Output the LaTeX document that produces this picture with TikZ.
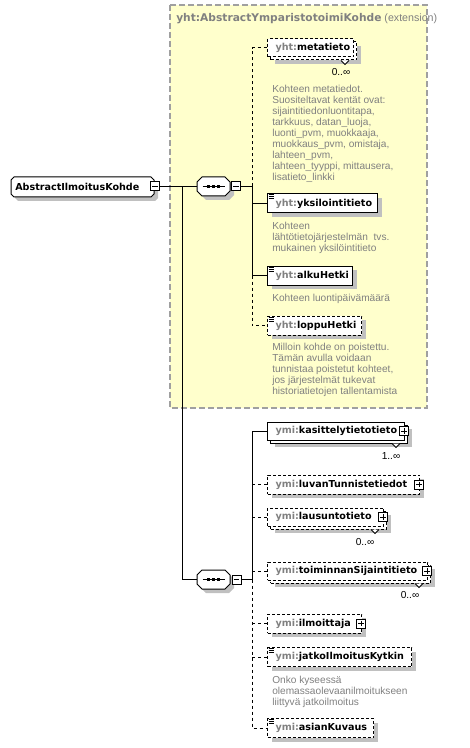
\documentclass[tikz,border=0pt]{standalone}
\usepackage{fontspec}
\setmainfont{Liberation Sans}
\newfontfamily\xsdname{DejaVu Sans}
\usetikzlibrary{shadows}
\definecolor{xsdYellow}{RGB}{255,255,204}
\definecolor{xsdGrey}{RGB}{128,128,128}
\definecolor{xsdShade}{RGB}{192,192,192}
\definecolor{xsdFrame}{RGB}{160,160,160}
\newcommand{\xsdns}[1]{\textcolor{xsdGrey}{#1:}}
% bevelled outline with its shadow: x1, y1, x2, y2, chamfer
\newcommand{\bevelbox}[5]{%
  \fill[xsdShade, shift={(4,4)}] (#1+#5,#2) -- (#3-#5,#2) -- (#3,#2+#5) -- (#3,#4-#5) -- (#3-#5,#4) -- (#1+#5,#4) -- (#1,#4-#5) -- (#1,#2+#5) -- cycle;
  \filldraw[fill=white, draw=black, line width=0.75pt] (#1+#5,#2) -- (#3-#5,#2) -- (#3,#2+#5) -- (#3,#4-#5) -- (#3-#5,#4) -- (#1+#5,#4) -- (#1,#4-#5) -- (#1,#2+#5) -- cycle;}

\begin{document}
\begin{tikzpicture}[x=0.75pt, y=-0.75pt]
    \tikzstyle{extframe} = [draw=xsdFrame, fill=xsdYellow, line width=1.1pt, dash pattern=on 4.5pt off 2.25pt]
    \tikzstyle{title} = [anchor=west, inner sep=0pt, text=xsdGrey, font=\fontsize{8}{9}\selectfont]
    \tikzstyle{elbox} = [rectangle, draw=black, fill=white, line width=0.75pt, anchor=west, minimum height=14.25pt, inner xsep=6pt, inner ysep=0pt, align=left, font=\xsdname\bfseries\fontsize{7.2}{8.6}\selectfont]
    \tikzstyle{single} = [general shadow={fill=xsdShade, shadow scale=1, shadow xshift=3pt, shadow yshift=-3pt}]
    \tikzstyle{multi} = [minimum height=13.5pt, general shadow={fill=xsdShade, shadow scale=1, shadow xshift=5.25pt, shadow yshift=-5.25pt}, copy shadow={shadow scale=1, shadow xshift=2.25pt, shadow yshift=-2.25pt}]
    \tikzstyle{opt} = [dash pattern=on 2.25pt off 1.5pt]
    \tikzstyle{seqbox} = [rectangle, minimum width=24.75pt, minimum height=14.25pt, inner sep=0pt]
    \tikzstyle{rootbox} = [rectangle, anchor=west, text width=101.25pt, inner xsep=3pt, inner ysep=0pt, minimum height=15pt, align=left, font=\xsdname\bfseries\fontsize{7.2}{8.6}\selectfont]
    \tikzstyle{minus} = [rectangle, draw=black, fill=white, line width=0.75pt, minimum size=6.75pt, inner sep=0pt, path picture={\draw[line width=0.75pt] ([xshift=1.2pt]path picture bounding box.west) -- ([xshift=-1.2pt]path picture bounding box.east);}]
    \tikzstyle{plus} = [rectangle, draw=black, fill=white, line width=0.75pt, minimum size=6.75pt, inner sep=0pt, path picture={\draw[line width=0.75pt] ([xshift=1.2pt]path picture bounding box.west) -- ([xshift=-1.2pt]path picture bounding box.east) ([yshift=-1.2pt]path picture bounding box.north) -- ([yshift=1.2pt]path picture bounding box.south);}]
    \tikzstyle{doc} = [anchor=north west, inner sep=0pt, align=left, text=xsdGrey, font=\fontsize{7.6}{8.2}\selectfont]
    \tikzstyle{mult} = [inner sep=0pt, font=\fontsize{7.6}{8}\selectfont]
    \tikzstyle{conn} = [draw=black, line width=0.75pt]
    \tikzstyle{optline} = [dash pattern=on 2.25pt off 2.25pt]

    \useasboundingbox (0,0) rectangle (470,748);

    % extension base type
    \draw[extframe] (170,5) rectangle (427,408);
    \node[title] (extTitle) at (176,19) {{\xsdname\bfseries yht:AbstractYmparistotoimiKohde} (extension)};

    % root and compositors
    \bevelbox{11}{177}{154}{197}{3}
    \bevelbox{197}{177}{230}{196}{5}
    \bevelbox{197}{570}{230}{589}{5}
    \node[rootbox] (root) at (11,187) {AbstractIlmoitusKohde};
    \node[minus] (rootT) at (155,186.5) {};
    \node[seqbox] (seqA) at (213.5,186.5) {};
    \node[minus] (seqAT) at (236,186.5) {};
    \node[seqbox] (seqB) at (213.5,579.5) {};
    \node[minus] (seqBT) at (236.5,579.5) {};
    \foreach \s in {seqA,seqB} {
        \draw[line width=0.75pt] ([xshift=-8.25pt]\s.center) -- ([xshift=8.25pt]\s.center);
        \foreach \d in {-5,0,5}
            \fill ([shift={(\d-1.5,-1.5)}]\s.center) rectangle ++(3,3);
    }

    % yht elements
    \node[elbox, multi, opt, text width=52.5pt] (meta) at (267,48) {\xsdns{yht}metatieto};
    \node[elbox, single, text width=70.5pt] (yksilo) at (267,203.5) {\xsdns{yht}yksilointitieto};
    \node[elbox, single, text width=51.75pt] (alku) at (267,275.5) {\xsdns{yht}alkuHetki};
    \node[elbox, single, opt, text width=58.5pt] (loppu) at (267,325.5) {\xsdns{yht}loppuHetki};

    \node[doc] (metaDoc) at (272,85) {Kohteen metatiedot.\\Suositeltavat kentät ovat:\\sijaintitiedonluontitapa,\\tarkkuus, datan\_luoja,\\luonti\_pvm, muokkaaja,\\muokkaus\_pvm, omistaja,\\lahteen\_pvm,\\lahteen\_tyyppi, mittausera,\\lisatieto\_linkki};
    \node[doc] (yksiloDoc) at (272,222) {Kohteen\\lähtötietojärjestelmän~ tvs.\\mukainen yksilöintitieto};
    \node[doc] (alkuDoc) at (272,294) {Kohteen luontipäivämäärä};
    \node[doc] (loppuDoc) at (272,343) {Milloin kohde on poistettu.\\Tämän avulla voidaan\\tunnistaa poistetut kohteet,\\jos järjestelmät tukevat\\historiatietojen tallentamista};

    % ymi elements
    \node[elbox, multi, text width=90.75pt] (kasit) at (267,431) {\xsdns{ymi}kasittelytietotieto};
    \node[elbox, single, opt, text width=102pt] (luvan) at (267,484.5) {\xsdns{ymi}luvanTunnistetiedot};
    \node[elbox, multi, opt, text width=75pt] (laus) at (267,517) {\xsdns{ymi}lausuntotieto};
    \node[elbox, multi, opt, text width=108pt] (toim) at (267,571) {\xsdns{ymi}toiminnanSijaintitieto};
    \node[elbox, single, opt, text width=58.5pt] (ilmo) at (267,623.5) {\xsdns{ymi}ilmoittaja};
    \node[elbox, single, opt, text width=96pt] (jatko) at (267,657) {\xsdns{ymi}jatkoIlmoitusKytkin};
    \node[elbox, single, opt, text width=67.5pt] (asian) at (267,728) {\xsdns{ymi}asianKuvaus};

    \node[doc] (jatkoDoc) at (272,676) {Onko kyseessä\\olemassaolevaanilmoitukseen\\liittyvä jatkoilmoitus};

    % expand boxes, multiplicities, type icons
    \foreach \n in {kasit,luvan,laus,toim,ilmo}
        \node[plus] (\n T) at ([xshift=-0.75pt]\n.east) {};
    \foreach \n in {meta,kasit,laus,toim}
        \filldraw[fill=white, line width=0.75pt] ([shift={(-13,3)}]\n.south east) -- ++(4,4) -- ++(4,-4);
    \node[mult] (metaM) at (341,72.5) {0..∞};
    \node[mult] (kasitM) at (391,456) {1..∞};
    \node[mult] (lausM) at (365,542) {0..∞};
    \node[mult] (toimM) at (410,595) {0..∞};
    \foreach \n in {yksilo,alku,loppu,jatko,asian}
        \foreach \k in {1.5,3.5,5.5}
            \draw[line width=0.75pt] ([shift={(1.5,\k)}]\n.north west) -- ++(5,0);

    % connectors
    \coordinate (fork) at (182,186.5);
    \coordinate (busA) at (252,186.5);
    \coordinate (busB) at (252,579.5);
    \draw[conn] (rootT.east) -- (seqA.west);
    \draw[conn] (fork) |- (seqB.west);
    \draw[conn] (seqAT.east) -- (busA);
    \draw[conn, optline] (busA) |- (meta.west);
    \draw[conn] (busA) |- (alku.west);
    \draw[conn] (busA |- yksilo.west) -- (yksilo.west);
    \draw[conn, optline] (busA |- alku.west) |- (loppu.west);
    \draw[conn] (seqBT.east) -- (busB);
    \draw[conn] (busB) |- (kasit.west);
    \draw[conn, optline] (busB) |- (asian.west);
    \foreach \n in {luvan,laus,toim,ilmo,jatko}
        \draw[conn, optline] (busB |- \n.west) -- (\n.west);
\end{tikzpicture}
\end{document}
